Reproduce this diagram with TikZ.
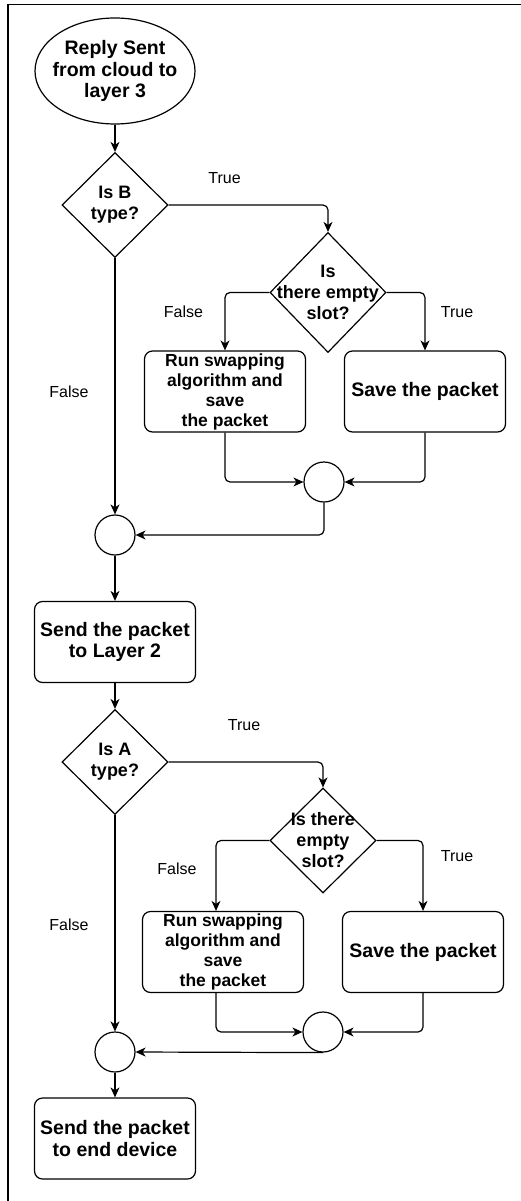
\documentclass[tikz,border=0pt]{standalone}
\usepackage{fontspec}
\setmainfont{Liberation Sans}
\usetikzlibrary{shapes.geometric,arrows.meta}

\tikzset{
  shp/.style={draw, line width=1.2pt, inner sep=0pt, fill=white},
  boxn/.style={shp, rectangle, rounded corners=8pt, minimum width=161pt, minimum height=81pt, align=center},
  dia/.style={shp, diamond},
  mergec/.style={shp, circle, minimum size=40pt},
  txt/.style={align=center, inner sep=0pt, font=\bfseries\fontsize{19.5}{21.5}\selectfont},
  dtxt/.style={align=center, inner sep=0pt, font=\bfseries\fontsize{18}{21}\selectfont},
  stxt/.style={font=\bfseries\fontsize{17.5}{20}\selectfont},
  lbl/.style={inner sep=0pt, font=\fontsize{16}{18}\selectfont},
  arr/.style={line width=1.2pt, rounded corners=5pt, -{Stealth[length=10pt,width=9pt,inset=3pt]}},
}

\begin{document}
\begin{tikzpicture}[x=1pt, y=-1pt]
\useasboundingbox (0,0) rectangle (521,1201);

% page frame
\draw[line width=1.4pt] (8,1201) -- (8,4.5) -- (521,4.5);

% upper section: layer 3
\node[shp, ellipse, minimum width=160pt, minimum height=106pt] (start) at (115,71) {};
\node[txt] (starttxt) at (start) {Reply Sent\\from cloud to\\layer 3};

\node[dia, minimum width=106pt, minimum height=105pt] (isb) at (115,205) {};
\node[dtxt] (isbtxt) at (isb) {Is B\\type?};

\node[dia, minimum width=116pt, minimum height=120pt] (slot1) at (328,292.5) {};
\node[dtxt] (slot1txt) at (slot1) {Is\\there empty\\slot?};

\node[boxn, stxt] (swap1) at (225,391.5) {Run swapping\\algorithm and\\save\\the packet};
\node[boxn, txt] (save1) at (425,391.5) {Save the packet};

\node[mergec] (join1) at (324,482) {};
\node[mergec] (merge1) at (115,535) {};

\node[boxn, txt] (send2) at (115,642) {Send the packet\\to Layer 2};

% lower section: layer 2
\node[dia, minimum width=106pt, minimum height=105pt] (isa) at (115,762) {};
\node[dtxt] (isatxt) at (isa) {Is A\\type?};

\node[dia, minimum width=106pt, minimum height=105pt] (slot2) at (323,840.5) {};
\node[dtxt] (slot2txt) at (slot2) {Is there\\empty\\slot?};

\node[boxn, stxt] (swap2) at (223,952) {Run swapping\\algorithm and\\save\\the packet};
\node[boxn, txt] (save2) at (423,952) {Save the packet};

\node[mergec] (join2) at (323,1032) {};
\node[mergec] (merge2) at (115,1052) {};

\node[boxn, txt] (sendend) at (115,1138.5) {Send the packet\\to end device};

% connectors, upper section
\draw[arr] (start.south) -- (isb.north);
\draw[arr] (isb.east) -| (slot1.north);
\draw[arr] (slot1.west) -| (swap1.north);
\draw[arr] (slot1.east) -| (save1.north);
\draw[arr] (swap1.south) |- (join1.west);
\draw[arr] (save1.south) |- (join1.east);
\draw[arr] (join1.south) |- (merge1.east);
\draw[arr] (isb.south) -- (merge1.north);
\draw[arr] (merge1.south) -- (send2.north);
\draw[arr] (send2.south) -- (isa.north);

% connectors, lower section
\draw[arr] (isa.east) -| (slot2.north);
\draw[arr] (slot2.west) -| ([xshift=-7pt]swap2.north);
\draw[arr] (slot2.east) -| (save2.north);
\draw[arr] ([xshift=-7pt]swap2.south) |- (join2.west);
\draw[arr] (save2.south) |- (join2.east);
\draw[arr] (join2.south) -- (merge2.east);
\draw[arr] (isa.south) -- (merge2.north);
\draw[arr] (merge2.south) -- (sendend.north);

% branch labels
\node[lbl] (t1) at (224.5,178) {True};
\node[lbl] (f1) at (183.5,312) {False};
\node[lbl] (t2) at (457,312) {True};
\node[lbl] (f2) at (69,392) {False};
\node[lbl] (t3) at (244,725) {True};
\node[lbl] (f3) at (177,869) {False};
\node[lbl] (t4) at (457,856) {True};
\node[lbl] (f4) at (69,925) {False};
\end{tikzpicture}
\end{document}
